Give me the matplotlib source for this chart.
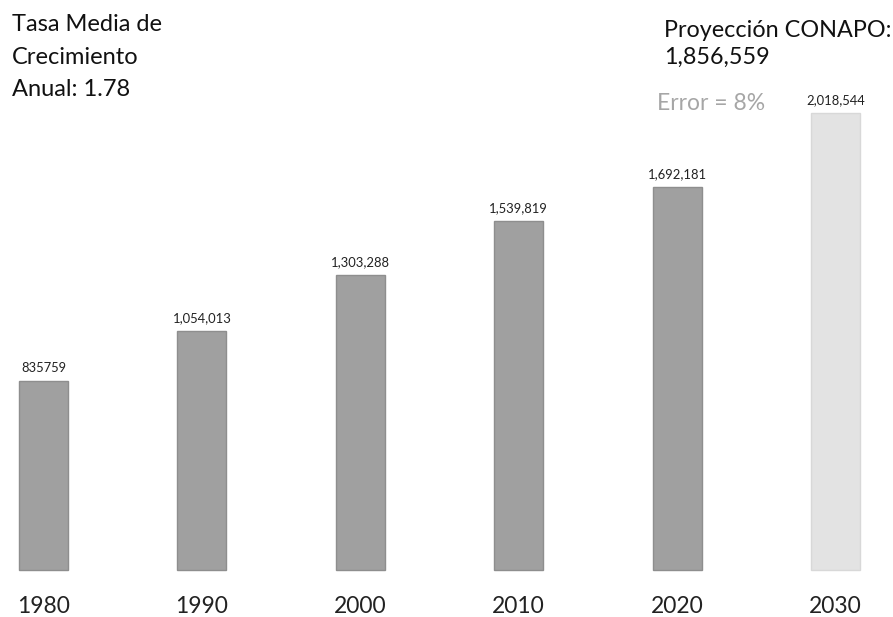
import matplotlib
matplotlib.use("Agg")
import matplotlib.pyplot as plt

years = ["1980", "1990", "2000", "2010", "2020", "2030"]
values = [835759, 1054013, 1303288, 1539819, 1692181, 2018544]
value_labels = ["835759", "1,054,013", "1,303,288", "1,539,819", "1,692,181", "2,018,544"]
fill_colors = ["#a0a0a0"] * 5 + ["#e3e3e3"]
edge_colors = ["#8e8e8e"] * 5 + ["#d8d8d8"]

left_note = ["Tasa Media de", "Crecimiento", "Anual: 1.78"]
right_note = ["Proyección CONAPO:", "1,856,559"]
error_note = "Error = 8%"

plt.rcParams['font.family'] = ['Lato', 'DejaVu Sans']

W, H = 893, 617
fig = plt.figure(figsize=(W / 100, H / 100), dpi=100)
ax = fig.add_axes([0, 0, 1, 1])
ax.set_axis_off()

px_unit = 158.4
x0 = 43.5
base = 570
k = 457 / 2018544
ax.set_xlim(-x0 / px_unit, (W - x0) / px_unit)
ax.set_ylim(-(H - base) / k, base / k)

xs = list(range(len(years)))
ax.bar(xs, values, width=0.31, color=fill_colors, edgecolor=edge_colors, linewidth=1)

for x, v, lab in zip(xs, values, value_labels):
    ax.annotate(lab, (x, v), xytext=(0, 5), textcoords='offset points',
                ha='center', va='bottom', fontsize=9.4, color='#222222')

for x, yr in zip(xs, years):
    ax.annotate(yr, (x, 0), xytext=(0, -26.5), textcoords='offset points',
                ha='center', va='center', fontsize=16.5, color='#222222')

def fy(py):
    return 1 - py / H

for i, line in enumerate(left_note):
    fig.text(12 / W, fy(31 + 32.5 * i), line, ha='left', va='baseline', fontsize=17, color='#111111')

fig.text(664 / W, fy(37), right_note[0], ha='left', va='baseline', fontsize=16.8, color='#111111')
fig.text(664 / W, fy(64), right_note[1], ha='left', va='baseline', fontsize=16.8, color='#111111')
fig.text(657 / W, fy(110), error_note, ha='left', va='baseline', fontsize=16.5, color='#a6a6a6')

fig.savefig("out.png", dpi=100)
